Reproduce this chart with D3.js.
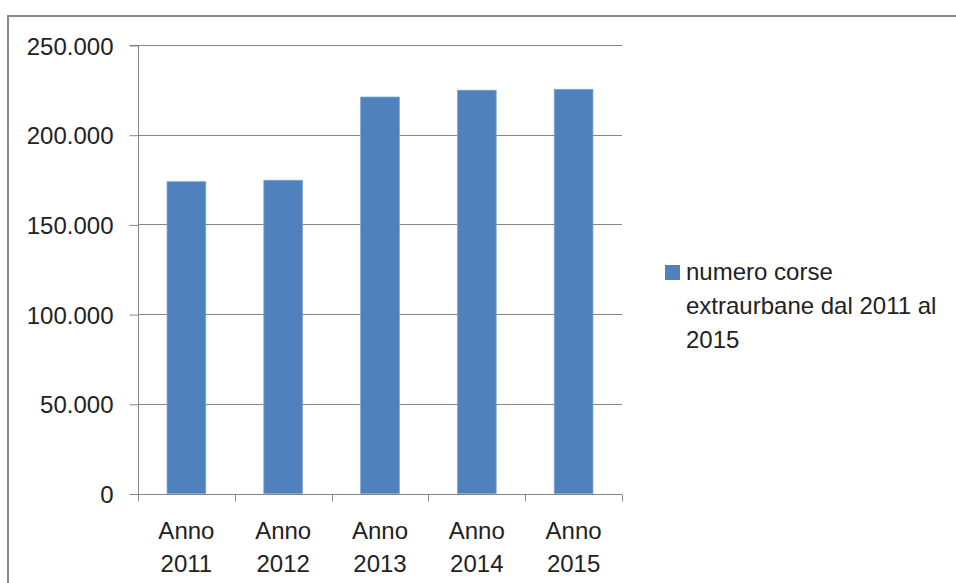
<!DOCTYPE html>
<html>
<head>
<meta charset="utf-8">
<script src="https://cdn.jsdelivr.net/npm/d3@7"></script>
<style>
  html, body { margin: 0; padding: 0; background: #fff; }
  svg { display: block; }
</style>
</head>
<body>
<svg id="chart" width="956" height="583"></svg>
<script>
// Numero corse extraurbane per anno
const categories = [["Anno", "2011"], ["Anno", "2012"], ["Anno", "2013"], ["Anno", "2014"], ["Anno", "2015"]];
const values = [173800, 174600, 221000, 224800, 225300];
const yTicks = [0, 50000, 100000, 150000, 200000, 250000];
const seriesName = ["numero corse", "extraurbane dal 2011 al", "2015"];

const svg = d3.select("#chart");
const font = "'Liberation Sans', Arial, sans-serif";
const gray = "#868686";
const textColor = "#222";

// outer frame of the chart area
svg.append("rect")
  .attr("x", 8).attr("y", 16)
  .attr("width", 960).attr("height", 600)
  .attr("fill", "none").attr("stroke", "#898989").attr("stroke-width", 2);

const plot = { left: 138, right: 622, top: 45, bottom: 493.5 };

const x = d3.scaleBand()
  .domain(categories.map((c, i) => i))
  .range([plot.left, plot.right])
  .paddingInner(0.6).paddingOuter(0.3);

const y = d3.scaleLinear().domain([0, 250000]).range([plot.bottom, plot.top]);

const fmt = v => d3.format(",")(v).replace(/,/g, ".");

// horizontal gridlines
svg.append("g").selectAll("line")
  .data(yTicks.filter(t => t > 0))
  .join("line")
  .attr("x1", plot.left).attr("x2", plot.right)
  .attr("y1", d => Math.round(y(d)) + 0.5).attr("y2", d => Math.round(y(d)) + 0.5)
  .attr("stroke", gray).attr("stroke-width", 1);

// bars
svg.append("g").selectAll("rect")
  .data(values)
  .join("rect")
  .attr("x", (d, i) => x(i))
  .attr("width", x.bandwidth())
  .attr("y", d => y(d))
  .attr("height", d => plot.bottom - y(d))
  .attr("fill", "#4F81BD")
  .attr("stroke", "#7EA3D2").attr("stroke-width", 0.8);

// y axis
const yAxis = d3.axisLeft(y).tickValues(yTicks).tickSize(9).tickPadding(16).tickFormat(fmt);
const gy = svg.append("g").attr("transform", `translate(${plot.left + 0.5},0.5)`).call(yAxis);
gy.select(".domain").attr("stroke", gray).attr("d", `M-9,${y(250000)}H0V${y(0)}`);
gy.selectAll(".tick line").attr("stroke", gray);
gy.selectAll(".tick text")
  .attr("font-family", font).attr("font-size", 24).attr("fill", textColor)
  .attr("dy", "0.36em");

// x axis with tick marks at category boundaries
const gx = svg.append("g").attr("transform", `translate(0,${Math.round(plot.bottom) + 0.5})`);
gx.append("line").attr("x1", plot.left).attr("x2", plot.right).attr("stroke", gray);
const bounds = d3.range(categories.length + 1).map(i => plot.left + i * (plot.right - plot.left) / categories.length);
gx.selectAll("line.tk").data(bounds).join("line").attr("class", "tk")
  .attr("x1", d => Math.round(d) + 0.5).attr("x2", d => Math.round(d) + 0.5)
  .attr("y1", 0).attr("y2", 7).attr("stroke", gray);
const labels = gx.selectAll("text").data(categories).join("text")
  .attr("font-family", font).attr("font-size", 24).attr("fill", textColor)
  .attr("text-anchor", "middle")
  .attr("transform", (d, i) => `translate(${x(i) + x.bandwidth() / 2},0)`);
labels.selectAll("tspan").data(d => d).join("tspan")
  .attr("x", 0).attr("y", (d, j) => 44 + j * 33)
  .text(d => d);

// legend
const lg = svg.append("g").attr("transform", "translate(665,0)");
lg.append("rect").attr("x", 0).attr("y", 265).attr("width", 15).attr("height", 15)
  .attr("fill", "#4F81BD");
lg.append("text")
  .attr("font-family", font).attr("font-size", 24).attr("fill", textColor)
  .selectAll("tspan").data(seriesName).join("tspan")
  .attr("x", 21).attr("y", (d, i) => 280 + i * 34)
  .text(d => d);
</script>
</body>
</html>
